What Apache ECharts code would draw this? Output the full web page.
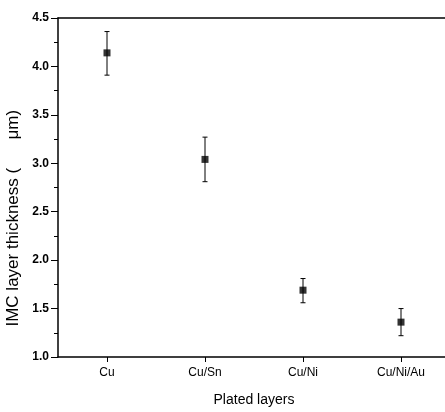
<!DOCTYPE html>
<html><head><meta charset="utf-8">
<script src="https://cdn.jsdelivr.net/npm/echarts@6/dist/echarts.min.js"></script>
<style>html,body{margin:0;padding:0;background:#fff}#c{width:445px;height:412px}</style>
</head><body><div id="c"></div>
<script>
const categories = ['Cu', 'Cu/Sn', 'Cu/Ni', 'Cu/Ni/Au'];
const thickness = [4.14, 3.04, 1.69, 1.36];
const errLow = [3.91, 2.81, 1.56, 1.22];
const errHigh = [4.36, 3.27, 1.81, 1.50];
const yTicks = [1.0, 1.5, 2.0, 2.5, 3.0, 3.5, 4.0, 4.5];

const chart = echarts.init(document.getElementById('c'));
const font = 'Liberation Sans, Arial, sans-serif';
const errData = categories.map((c, i) => [i, errLow[i], errHigh[i]]);
chart.setOption({
  animation: false,
  backgroundColor: '#fff',
  grid: { left: 58, top: 18, bottom: 55, right: -5, containLabel: false, outerBoundsMode: 'none' },
  xAxis: [{
    type: 'category', data: categories, boundaryGap: true,
    name: 'Plated layers', nameLocation: 'middle', nameGap: 36,
    nameTextStyle: { fontFamily: font, fontSize: 14, color: '#000', letterSpacing: -0.8 },
    axisLine: { lineStyle: { color: '#000', width: 1.5 } },
    axisTick: { show: true, alignWithLabel: true, length: 5, lineStyle: { color: '#000' } },
    axisLabel: { fontFamily: font, fontSize: 12, color: '#000', margin: 10, letterSpacing: -0.8 },
    splitLine: { show: false }
  }, {
    type: 'category', data: categories, position: 'top',
    axisLine: { lineStyle: { color: '#000', width: 1.5 } },
    axisTick: { show: false }, axisLabel: { show: false }, splitLine: { show: false }
  }],
  yAxis: {
    type: 'value', min: 1.0, max: 4.5, interval: 0.5,
    name: 'IMC layer thickness (      μm)             ', nameLocation: 'middle', nameGap: 29, nameRotate: 90,
    nameTextStyle: { fontFamily: font, fontSize: 17, color: '#000', letterSpacing: 0.3 },
    axisLine: { show: true, lineStyle: { color: '#000', width: 1.5 } },
    axisTick: { show: true, length: 7, lineStyle: { color: '#000' } },
    minorTick: { show: true, splitNumber: 2, length: 4, lineStyle: { color: '#000' } },
    axisLabel: { fontFamily: font, fontSize: 12, fontWeight: 'bold', color: '#000', margin: 9,
      formatter: v => { const t = yTicks.find(x => Math.abs(x - v) < 1e-6); return t !== undefined ? t.toFixed(1) : ''; } },
    splitLine: { show: false }
  },
  series: [{
    type: 'custom',
    data: errData,
    renderItem: (params, api) => {
      const x = api.value(0);
      const lo = api.coord([x, api.value(1)]);
      const hi = api.coord([x, api.value(2)]);
      const cap = 2.5;
      return { type: 'group', children: [
        { type: 'line', shape: { x1: lo[0], y1: lo[1], x2: hi[0], y2: hi[1] }, style: { stroke: '#000', lineWidth: 1 } },
        { type: 'line', shape: { x1: lo[0]-cap, y1: lo[1], x2: lo[0]+cap, y2: lo[1] }, style: { stroke: '#000', lineWidth: 1 } },
        { type: 'line', shape: { x1: hi[0]-cap, y1: hi[1], x2: hi[0]+cap, y2: hi[1] }, style: { stroke: '#000', lineWidth: 1 } }
      ]};
    },
    z: 1
  }, {
    type: 'scatter', data: thickness, symbol: 'rect', symbolSize: 7,
    itemStyle: { color: '#000' }, z: 2
  }]
});
</script></body></html>
